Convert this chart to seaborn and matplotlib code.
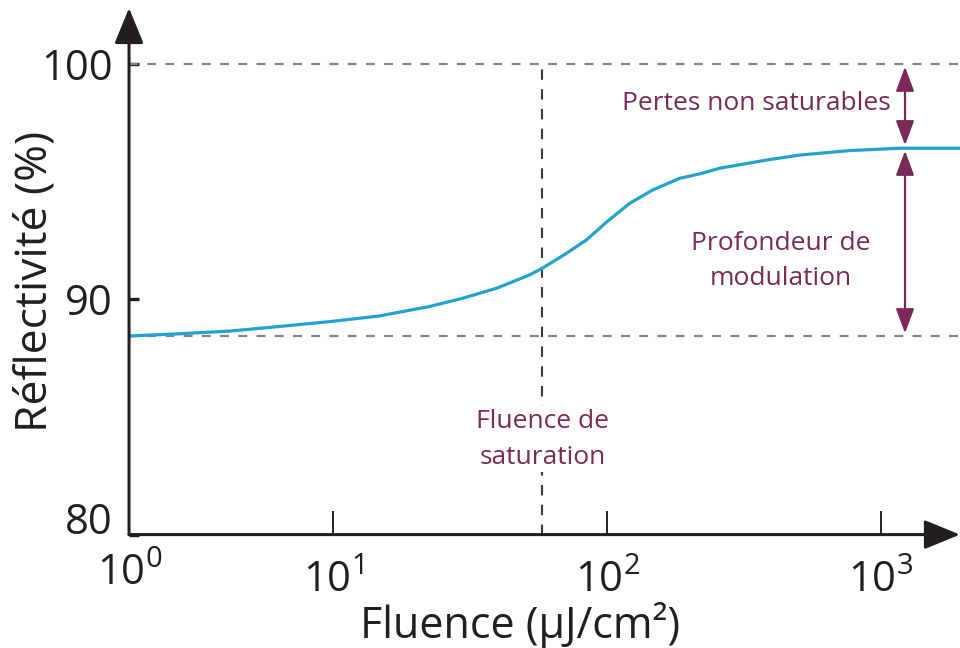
import matplotlib
matplotlib.use("Agg")
import matplotlib.pyplot as plt
import pandas as pd
import seaborn as sns
from matplotlib.transforms import ScaledTranslation

# Reflectivity of a saturable absorber mirror versus incident fluence
fluence = [1.8, 2.7, 4.2, 6.3, 9.7, 14.7, 22.4, 29.6, 39.5, 52, 58, 71, 84,
           100, 121, 147, 184, 218, 258, 383, 506, 771, 1174, 1945]
reflectivity = [88.44, 88.53, 88.65, 88.84, 89.05, 89.29, 89.69, 90.04,
                90.47, 91.03, 91.32, 91.95, 92.52, 93.30, 94.08, 94.65,
                95.14, 95.33, 95.57, 95.92, 96.13, 96.32, 96.42, 96.42]

r_low = 88.44      # unsaturated reflectivity
r_high = 96.43     # saturated reflectivity
r_full = 100       # ideal mirror
f_sat = 58         # saturation fluence
f_arrow = 1225     # where the bracket arrows are drawn

x_ticks = [1.8, 10, 100, 1000]
x_tick_labels = ["$10^0$", "$10^1$", "$10^2$", "$10^3$"]
y_ticks = [80, 90, 100]
y_tick_labels = ["80", "90", "100"]

x_range = (1.795, 1945)
y_range = (80, 102.38)

ink = "#231F20"
curve_color = "#22A3CF"
note_color = "#7A2A58"
dash_grey = "#858585"
dash_dark = "#3A3A3A"

sns.set_theme(style="white")
plt.rcParams["font.family"] = ["Open Sans", "DejaVu Sans"]
plt.rcParams["mathtext.default"] = "regular"

fig = plt.figure(figsize=(9.6, 6.48), dpi=100)
ax = fig.add_axes([0.1344, 0.175, 0.8656, 0.8127])
ax.set_xscale("log")

df = pd.DataFrame({"fluence": fluence, "reflectivity": reflectivity})
sns.lineplot(data=df, x="fluence", y="reflectivity", ax=ax, color=curve_color,
             lw=2.3, solid_joinstyle="round", zorder=4)

ax.set_xlim(*x_range)
ax.set_ylim(*y_range)

# reference levels
dash_style = (0, (4.0, 4.2))
ax.axhline(r_full, color=dash_grey, lw=1.6, ls=dash_style, zorder=2)
ax.axhline(r_low, color=dash_grey, lw=1.6, ls=dash_style, zorder=2)
ax.plot([f_sat, f_sat], [y_range[0], r_full], color=dash_dark, lw=1.5,
        ls=(0, (5.0, 4.5)), zorder=2)

# axes drawn as arrows
for side in ["top", "right", "left", "bottom"]:
    ax.spines[side].set_visible(False)
arrow_kw = dict(arrowstyle="-|>,head_length=1.1,head_width=0.45",
                color=ink, lw=2.2, mutation_scale=20, shrinkA=0, shrinkB=0)
ax.annotate("", xy=(1.0, 0), xytext=(0, 0), xycoords="axes fraction",
            textcoords="axes fraction", arrowprops=arrow_kw, zorder=5,
            annotation_clip=False)
ax.annotate("", xy=(0, 1.0), xytext=(0, 0), xycoords="axes fraction",
            textcoords="axes fraction", arrowprops=arrow_kw, zorder=5,
            annotation_clip=False)

# ticks
ax.set_xticks(x_ticks)
ax.set_xticklabels(x_tick_labels)
ax.xaxis.set_minor_locator(matplotlib.ticker.NullLocator())
ax.set_yticks(y_ticks)
ax.set_yticklabels(y_tick_labels)
ax.tick_params(axis="x", which="major", direction="in", length=17, width=1.4,
               color=ink, labelsize=30, labelcolor=ink, pad=18, bottom=True)
ax.tick_params(axis="y", which="major", direction="in", length=7, width=2.4,
               color=ink, labelsize=30, labelcolor=ink, pad=12, left=True)

# lift the corner labels so they do not collide
ax.get_yticklabels()[0].set_transform(
    ax.get_yticklabels()[0].get_transform()
    + ScaledTranslation(0, 12 / 72, fig.dpi_scale_trans))
ax.get_xticklabels()[0].set_transform(
    ax.get_xticklabels()[0].get_transform()
    + ScaledTranslation(0, 5 / 72, fig.dpi_scale_trans))

ax.set_xlabel("Fluence (µJ/cm²)", fontsize=31, color=ink)
ax.xaxis.label.set_verticalalignment("center")
ax.xaxis.set_label_coords(0.471, -0.172)
ax.set_ylabel("Réflectivité (%)", fontsize=32, color=ink)
ax.yaxis.label.set_verticalalignment("center")
ax.yaxis.set_label_coords(-0.113, 0.48)

# brackets for the two loss contributions
bracket_kw = dict(arrowstyle="<|-|>,head_length=0.75,head_width=0.28",
                  color=note_color, lw=1.6, mutation_scale=20,
                  shrinkA=2, shrinkB=2)
ax.annotate("", xy=(f_arrow, r_full), xytext=(f_arrow, r_high),
            arrowprops=bracket_kw, zorder=6)
ax.annotate("", xy=(f_arrow, r_high), xytext=(f_arrow, r_low),
            arrowprops=bracket_kw, zorder=6)

ax.text(352, 98.3, "Pertes non saturables", color=note_color, fontsize=19,
        ha="center", va="center")
ax.text(431, 91.62, "Profondeur de\nmodulation", color=note_color,
        fontsize=19, ha="center", va="center", linespacing=1.55)
ax.text(f_sat, 84.05, "Fluence de\nsaturation", color=note_color,
        fontsize=19, ha="center", va="center", linespacing=1.55, zorder=5,
        bbox=dict(facecolor="white", edgecolor="none", pad=2))

fig.savefig("out.png", dpi=100)
